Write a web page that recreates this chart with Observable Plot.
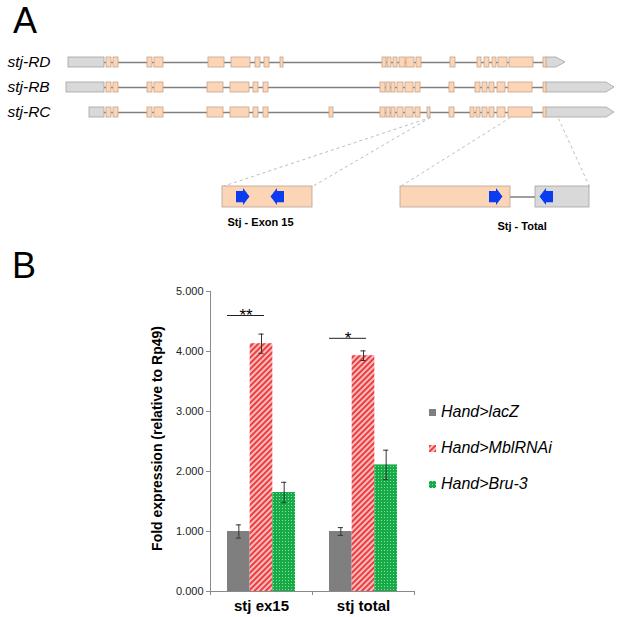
<!DOCTYPE html>
<html><head><meta charset="utf-8">
<script src="https://cdn.jsdelivr.net/npm/d3@7"></script>
<script src="https://cdn.jsdelivr.net/npm/@observablehq/plot@0.6"></script>
<style>
html,body{margin:0;padding:0;background:#fff;}
#wrap{position:relative;width:617px;height:617px;overflow:hidden;font-family:"Liberation Sans",Arial,sans-serif;}
.letter{position:absolute;font-size:36px;line-height:normal;color:#000;}
.leg{position:absolute;left:429px;height:20px;display:flex;align-items:center;font-style:italic;font-size:16px;color:#000;white-space:nowrap;}
.leg svg{margin-right:5px;}
</style></head><body>
<svg width="0" height="0" style="position:absolute">
  <defs>
    <pattern id="hatchRed" patternUnits="userSpaceOnUse" width="4" height="4" patternTransform="rotate(45)">
      <rect width="4" height="4" fill="#fbbcbc"/>
      <rect width="2" height="4" fill="#ec3d40"/>
    </pattern>
    <pattern id="dotGreen" patternUnits="userSpaceOnUse" width="3" height="3">
      <rect width="3" height="3" fill="#17ab48"/>
      <rect width="1" height="1" fill="#86dea2"/>
    </pattern>
  </defs>
</svg>
<div id="wrap"></div>
<script>
// ================= Panel A data (diagram units) =================
const transcripts = ["stj-RD", "stj-RB", "stj-RC"];
const utr5 = [[68, 104], [66, 104], [89, 104]];
const utr3 = [[546, 556, 565], [546, 606, 614], [546, 606, 614]]; // start, box end, tip
const exonsRD = [[106,111],[113,118],[147,152],[154,163],[208,224],[231,250],[255,260],[264,269],[280,283],
  [382,386],[387,391],[393,397],[399,405],[406,414],[416,421],[450,455],[477,481],[484,489],[492,496],[498,507],[509,533],[543,546]];
const exonsRB = [[106,111],[113,118],[147,152],[154,163],[207,223],[230,249],[253,258],[263,268],
  [380,385],[386,390],[391,395],[397,403],[405,413],[415,420],[449,454],[475,480],[482,487],[489,494],[497,505],[508,532],[543,546]];
const exonsRC = [[106,111],[113,118],[147,152],[154,163],[207,223],[230,249],[253,258],[263,268],[329,333],
  [380,385],[386,390],[391,395],[397,403],[405,413],[415,420],[427,430],[449,454],[470,474],[476,480],[482,487],[489,494],[497,505],[508,532],[543,546]];
const exonSets = [exonsRD, exonsRB, exonsRC];

// zoomed amplicons
const insetExonBoxes = [[222, 312], [400, 510]];
const insetUtrBoxes = [[535, 589]];
const insetIntrons = [[510, 535]];
const primers = [[236, "right"], [284, "left"], [489, "right"], [553, "left"]];
const insetLabels = ["Stj - Exon 15", "Stj - Total"];
const insetLabelX = [227, 497];
const insetLabelTrack = [6.52, 6.68];
const zoomLinks = [[430, 222], [430, 312], [510, 400], [558, 589]]; // from transcript x, to inset x

// ================= Panel B data =================
const groups = ["stj ex15", "stj total"];
const seriesNames = ["Hand>lacZ", "Hand>MblRNAi", "Hand>Bru-3"];
const lacZ = [1.00, 1.00];
const mblRNAi = [4.13, 3.93];
const bru3 = [1.65, 2.11];
const errLacZ = [0.11, 0.065];
const errMbl = [0.16, 0.08];
const errBru = [0.17, 0.245];
const yTicks = [0, 1, 2, 3, 4, 5];
const sigLabels = ["**", "*"];
const sigLevels = [4.6, 4.22];

// ================= Build Panel A =================
const HALF = 0.2, INSET = 5.38, IHALF = 0.42;
const exonRows = exonSets.flatMap((ex, t) => ex.map(([a, b]) => ({t, a, b})));
const utr5Rows = utr5.map(([a, b], t) => ({t, a, b}));
const utr3Pts = utr3.flatMap(([a, b, tip], t) => [
  {t, x: a, y1: t - HALF, y2: t + HALF},
  {t, x: b, y1: t - HALF, y2: t + HALF},
  {t, x: tip, y1: t, y2: t}
]);
const introns = transcripts.map((n, t) => ({t, a: utr5[t][1], b: utr3[t][0]}));
const BODY = 7, HEAD = 6.5, BH = 0.225, HH = 0.34;
const arrowPts = primers.flatMap(([x0, dir], k) => {
  const s = dir === "right" ? 1 : -1;
  return [
    {k, x: x0, y1: INSET - BH, y2: INSET + BH},
    {k, x: x0 + s * BODY, y1: INSET - BH, y2: INSET + BH},
    {k, x: x0 + s * BODY, y1: INSET - HH, y2: INSET + HH},
    {k, x: x0 + s * (BODY + HEAD), y1: INSET, y2: INSET}
  ];
});

const exonFill = "#fbd5b6", exonStroke = "#c7a48a", utrFill = "#d9d9d9", utrStroke = "#a3a3a3";

const plotA = Plot.plot({
  width: 617, height: 250,
  marginLeft: 0, marginRight: 0, marginTop: 0, marginBottom: 0,
  x: {domain: [0, 617], range: [0, 617], axis: null},
  y: {domain: [-2.48, 7.52], range: [0, 250], axis: null},
  style: {fontFamily: "'Liberation Sans', Arial, sans-serif", background: "transparent", overflow: "visible"},
  marks: [
    Plot.link(zoomLinks, {x1: d => d[0], y1: (d, i) => i === 3 ? 2.24 : 2.2, x2: d => d[1], y2: INSET - IHALF,
      stroke: "#bdbdbd", strokeWidth: 1, strokeDasharray: "3,3"}),
    Plot.ruleY(introns, {y: "t", x1: "a", x2: "b", stroke: "#7f7f7f", strokeWidth: 1.5}),
    Plot.rect(utr5Rows, {x1: "a", x2: "b", y1: d => d.t - HALF, y2: d => d.t + HALF, fill: utrFill, stroke: utrStroke, strokeWidth: 0.8}),
    Plot.areaY(utr3Pts, {x: "x", y1: "y1", y2: "y2", z: "t", fill: utrFill, stroke: utrStroke, strokeWidth: 0.8, curve: "linear"}),
    Plot.rect(exonRows, {x1: "a", x2: "b", y1: d => d.t - HALF, y2: d => d.t + HALF, fill: exonFill, stroke: exonStroke, strokeWidth: 0.8}),
    Plot.text(transcripts, {x: 7, y: (d, i) => i, text: d => d, textAnchor: "start", lineAnchor: "middle",
      fontStyle: "italic", fontSize: 15.5, fill: "#000"}),
    // inset
    Plot.ruleY(insetIntrons, {y: INSET, x1: d => d[0], x2: d => d[1], stroke: "#7f7f7f", strokeWidth: 1.5}),
    Plot.rect(insetExonBoxes, {x1: d => d[0], x2: d => d[1], y1: INSET - IHALF, y2: INSET + IHALF, fill: exonFill, stroke: "#b8a090", strokeWidth: 0.8}),
    Plot.rect(insetUtrBoxes, {x1: d => d[0], x2: d => d[1], y1: INSET - IHALF, y2: INSET + IHALF, fill: utrFill, stroke: utrStroke, strokeWidth: 0.8}),
    Plot.areaY(arrowPts, {x: "x", y1: "y1", y2: "y2", z: "k", fill: "#0b3cf2", curve: "linear"}),
    Plot.text(insetLabels, {x: (d, i) => insetLabelX[i], y: (d, i) => insetLabelTrack[i], text: d => d,
      textAnchor: "start", lineAnchor: "bottom", fontWeight: "bold", fontSize: 11, fill: "#000"})
  ]
});

// ================= Build Panel B =================
const valueSets = [lacZ, mblRNAi, bru3];
const errSets = [errLacZ, errMbl, errBru];
const BW = 68 / 3 / 102;
const bars = [];
groups.forEach((g, gi) => seriesNames.forEach((s, si) => {
  const x1 = gi + 0.5 + (si - 1.5) * BW;
  const v = valueSets[si][gi], e = errSets[si][gi];
  bars.push({group: g, series: s, x1, x2: x1 + BW, cx: x1 + BW / 2, value: v, lo: v - e, hi: v + e});
}));
const CAP = 0.025;
const sig = groups.map((g, gi) => ({
  label: sigLabels[gi], level: sigLevels[gi],
  x1: gi + 0.5 - 1.5 * BW, x2: gi + 0.5 + 0.03
}));
const fills = ["#7f7f7f", "url(#hatchRed)", "url(#dotGreen)"];
const axisGray = "#8a8a8a";
const yTitle = ["Fold expression (relative to Rp49)"];

const plotB = Plot.plot({
  width: 617, height: 367,
  marginLeft: 210, marginRight: 203, marginTop: 41, marginBottom: 26,
  x: {domain: [0, groups.length]},
  y: {domain: [0, 5]},
  color: {domain: seriesNames, range: fills},
  style: {fontFamily: "'Liberation Sans', Arial, sans-serif", background: "transparent", overflow: "visible"},
  marks: [
    Plot.rectY(bars, {x1: "x1", x2: "x2", y1: 0, y2: "value", fill: "series"}),
    Plot.ruleX(bars, {x: "cx", y1: "lo", y2: "hi", stroke: "#333", strokeWidth: 1}),
    Plot.ruleY(bars, {y: "hi", x1: d => d.cx - CAP, x2: d => d.cx + CAP, stroke: "#333", strokeWidth: 1}),
    Plot.ruleY(bars, {y: "lo", x1: d => d.cx - CAP, x2: d => d.cx + CAP, stroke: "#333", strokeWidth: 1}),
    Plot.ruleX([0], {stroke: axisGray}),
    Plot.ruleY([0], {stroke: axisGray}),
    Plot.axisY({ticks: yTicks, tickFormat: d3.format(".3f"), tickSize: 4, tickPadding: 3, fontSize: 11,
      stroke: axisGray, fill: "#222", label: null}),
    Plot.axisX({ticks: [0, 1, 2], tickSize: 4, tickFormat: () => "", stroke: axisGray, label: null}),
    Plot.text(groups, {x: (d, i) => i + 0.5, y: 0, dy: 15, text: d => d, lineAnchor: "middle",
      fontWeight: "bold", fontSize: 15, fill: "#000"}),
    Plot.text(yTitle, {x: 0, y: 2.55, dx: -53, rotate: -90, text: d => d, lineAnchor: "middle",
      fontWeight: "bold", fontSize: 14, fill: "#000"}),
    Plot.ruleY(sig, {y: "level", x1: "x1", x2: "x2", stroke: "#222", strokeWidth: 1}),
    Plot.text(sig, {x: d => (d.x1 + d.x2) / 2, y: "level", text: "label", lineAnchor: "middle", dy: 0,
      fontSize: 17, fill: "#000", letterSpacing: "3px"})
  ]
});

// ================= Assemble =================
const wrap = document.getElementById("wrap");
plotA.style.position = "absolute"; plotA.style.left = "0px"; plotA.style.top = "0px";
plotB.style.position = "absolute"; plotB.style.left = "0px"; plotB.style.top = "250px";
wrap.appendChild(plotA);
wrap.appendChild(plotB);

const la = document.createElement("div"); la.className = "letter"; la.textContent = "A";
la.style.left = "13px"; la.style.top = "0px"; wrap.appendChild(la);
const lb = document.createElement("div"); lb.className = "letter"; lb.textContent = "B";
lb.style.left = "12px"; lb.style.top = "245px"; wrap.appendChild(lb);

const legendCenters = [412, 448, 484];
seriesNames.forEach((s, i) => {
  const row = document.createElement("div");
  row.className = "leg";
  row.style.top = (legendCenters[i] - 10) + "px";
  row.innerHTML = `<svg width="7" height="7"><rect width="7" height="7" fill="${fills[i]}"/></svg><span>${s.replace(">", "&gt;")}</span>`;
  wrap.appendChild(row);
});
</script>
</body></html>
